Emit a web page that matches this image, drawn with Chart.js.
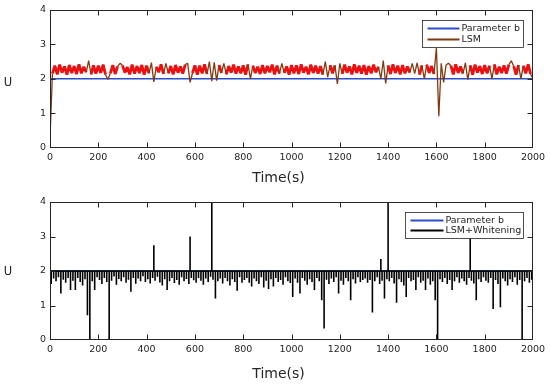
<!DOCTYPE html>
<html>
<head>
<meta charset="utf-8">
<script src="https://cdn.jsdelivr.net/npm/chart.js@4"></script>
<style>
  html, body { margin: 0; padding: 0; background: #fff; }
  #wrap { position: relative; width: 550px; height: 387px; }
  canvas { position: absolute; left: 0; }
  #topChart { top: 0; }
  #bottomChart { top: 190px; }
</style>
</head>
<body>
<div id="wrap">
  <canvas id="topChart" width="550" height="190"></canvas>
  <canvas id="bottomChart" width="550" height="197"></canvas>
</div>
<script>
// axes
const timeRange = [0, 2000];
const timeTickStep = 200;
const uRange = [0, 4];
const uTickStep = 1;

// Parameter b (constant)
const paramB = 2;

// LSM estimate, one sample every 10 s
const lsmStep = 10;
const lsm = [
  0.3, 2.15, 2.38, 2.13, 2.41, 2.18, 2.36, 2.12, 2.40, 2.17,
  2.37, 2.14, 2.42, 2.16, 2.35, 2.19, 2.53, 2.13, 2.39, 2.15,
  2.38, 2.17, 2.41, 2.12, 1.98, 2.16, 2.40, 2.14, 2.36, 2.45,
  2.39, 2.18, 2.34, 2.13, 2.41, 2.15, 2.37, 2.17, 2.40, 2.12,
  2.38, 2.16, 2.47, 1.91, 2.35, 2.19, 2.42, 2.14, 2.45, 2.16,
  2.37, 2.13, 2.40, 2.18, 2.36, 2.15, 2.41, 2.45, 1.90, 2.17,
  2.39, 2.12, 2.38, 2.16, 2.42, 2.14, 2.50, 1.93, 2.48, 1.95,
  2.40, 2.17, 2.45, 2.13, 2.37, 2.18, 2.41, 2.15, 2.36, 2.16,
  2.39, 2.12, 2.42, 2.00, 2.38, 2.17, 2.35, 2.14, 2.40, 2.16,
  2.37, 2.19, 2.41, 2.13, 2.38, 2.15, 2.45, 2.17, 2.36, 2.12,
  2.40, 2.16, 2.39, 2.14, 2.42, 2.18, 2.35, 2.13, 2.41, 2.17,
  2.38, 2.15, 2.37, 2.12, 2.50, 2.05, 2.40, 2.16, 2.39, 1.85,
  2.45, 2.14, 2.41, 2.18, 2.36, 2.13, 2.42, 2.17, 2.38, 2.15,
  2.40, 2.12, 2.37, 2.16, 2.41, 2.19, 2.35, 2.00, 2.53, 1.87,
  2.39, 2.14, 2.42, 2.17, 2.38, 2.13, 2.40, 2.16, 2.36, 2.18,
  2.45, 2.15, 2.46, 2.12, 2.39, 2.00, 2.41, 2.17, 2.37, 2.14,
  2.90, 0.92, 2.45, 1.90, 2.40, 2.45, 2.38, 2.13, 2.42, 2.17,
  2.36, 2.15, 2.46, 1.98, 2.39, 2.12, 2.41, 2.18, 2.37, 2.14,
  2.40, 2.16, 2.38, 2.00, 2.42, 2.13, 2.35, 2.17, 2.39, 2.15,
  2.41, 2.52, 2.37, 2.12, 2.40, 2.00, 2.38, 2.16, 2.42, 2.14,
  2.00
];

// LSM + whitening, one sample every 5 s, level 2 between the spikes
const whitenStep = 5;
const whitenBase = 2;
const lsmWhiten = [
  0, 1.62, 2, 1.78, 2, 1.7, 2, 1.82, 2, 1.35, 2, 1.75, 2, 1.66, 2, 1.8, 2, 1.45, 2, 1.72,
  2, 1.45, 2, 1.8, 2, 1.68, 2, 1.58, 2, 1.76, 2, 0.72, 2, 0, 2, 1.7, 2, 1.45, 2, 1.82,
  2, 1.74, 2, 1.62, 2, 1.8, 2, 1.68, 2, 0, 2, 1.72, 2, 1.84, 2, 1.6, 2, 1.77, 2, 1.7,
  2, 1.82, 2, 1.66, 2, 1.75, 2, 1.4, 2, 1.8, 2, 1.63, 2, 1.78, 2, 1.7, 2, 1.85, 2, 1.68,
  2, 1.76, 2, 1.64, 2, 1.8, 2.75, 1.72, 2, 1.83, 2, 1.67, 2, 1.58, 2, 1.76, 2, 1.45, 2, 1.7,
  2, 1.8, 2, 1.65, 2, 1.74, 2, 1.6, 2, 1.82, 2, 1.7, 2, 1.77, 2, 1.62, 3.0, 1.8, 2, 1.73,
  2, 1.66, 2, 1.8, 2, 1.72, 2, 1.6, 2, 1.78, 2, 1.68, 2, 1.83, 4, 1.75, 2, 1.2, 2, 1.7,
  2, 1.78, 2, 1.64, 2, 1.8, 2, 1.7, 2, 1.58, 2, 1.76, 2, 1.68, 2, 1.43, 2, 1.82, 2, 1.66,
  2, 1.74, 2, 1.8, 2, 1.66, 2, 1.55, 2, 1.78, 2, 1.7, 2, 1.62, 2, 1.82, 2, 1.52, 2, 1.72,
  2, 1.48, 2, 1.76, 2, 1.55, 2, 1.8, 2, 1.68, 2, 1.74, 2, 1.6, 2, 1.82, 2, 1.7, 2, 1.65,
  2, 1.25, 2, 1.78, 2, 1.66, 2, 1.35, 2, 1.8, 2, 1.72, 2, 1.6, 2, 1.76, 2, 1.68, 2, 1.45,
  2, 1.8, 2, 1.7, 2, 1.15, 2, 0.33, 2, 1.75, 2, 1.62, 2, 1.78, 2, 1.68, 2, 1.82, 2, 1.35,
  2, 1.72, 2, 1.6, 2, 1.8, 2, 1.7, 2, 1.15, 2, 1.76, 2, 1.64, 2, 1.82, 2, 1.68, 2, 1.74,
  2, 1.78, 2, 1.66, 2, 1.74, 2, 0.8, 2, 1.7, 2, 1.82, 2, 1.62, 2.35, 1.72, 2, 1.2, 2, 1.76,
  4, 1.7, 2, 1.8, 2, 1.64, 2, 1.08, 2, 1.76, 2, 1.68, 2, 1.58, 2, 1.25, 2, 1.8, 2, 1.7,
  2, 1.74, 2, 1.45, 2, 1.82, 2, 1.66, 2, 1.72, 2, 1.45, 2, 1.78, 2, 1.6, 2, 1.7, 2, 1.15,
  2, 0, 2, 1.76, 2, 1.68, 2, 1.8, 2, 1.62, 2, 1.74, 2, 1.45, 2, 1.7, 2, 1.82, 2, 1.66,
  2, 1.78, 2, 1.7, 2, 1.6, 2, 1.8, 2.95, 1.72, 2, 1.64, 2, 1.15, 2, 1.76, 2, 1.68, 2, 1.82,
  2, 1.72, 2, 1.66, 2, 1.8, 2, 0.9, 2, 1.74, 2, 1.62, 2, 0.95, 2, 1.78, 2, 1.7, 2, 1.58,
  2, 1.76, 2, 1.68, 2, 1.82, 2, 1.6, 2, 1.74, 2, 0, 2, 1.7, 2, 1.8, 2, 1.66, 2, 1.75,
  4
];

const blue = '#2a4ec8';
const brown = '#803a10';
const red = '#ee1010';
const ink = '#262626';
const font = '"DejaVu Sans", sans-serif';

function series(vals, step) {
  return vals.map((v, i) => ({ x: i * step, y: v }));
}
// each sample drawn as a short vertical stroke off the base level
function stems(vals, step, base) {
  const pts = [];
  vals.forEach((v, i) => {
    const t = i * step;
    pts.push({ x: t, y: base }, { x: t, y: v }, { x: t, y: base });
  });
  return pts;
}
const paramLine = timeRange.map(t => ({ x: t, y: paramB }));

// box, inward ticks, U / Time(s) labels and a legend inside the axes
const matlabBox = {
  id: 'matlabBox',
  afterDraw(chart, args, o) {
    const { ctx, chartArea: a, scales: { x, y } } = chart;
    ctx.save();
    ctx.strokeStyle = ink;
    ctx.lineWidth = 1;
    const L = Math.round(a.left) + 0.5, R = Math.round(a.right) - 0.5;
    const T = Math.round(a.top) + 0.5, B = Math.round(a.bottom) - 0.5;
    ctx.strokeRect(L, T, R - L, B - T);
    ctx.beginPath();
    x.ticks.forEach(t => {
      const px = Math.min(R, Math.max(L, Math.round(x.getPixelForValue(t.value)) + 0.5));
      ctx.moveTo(px, B); ctx.lineTo(px, B - 5);
      ctx.moveTo(px, T); ctx.lineTo(px, T + 5);
    });
    y.ticks.forEach(t => {
      const py = Math.min(B, Math.max(T, Math.round(y.getPixelForValue(t.value)) + 0.5));
      ctx.moveTo(L, py); ctx.lineTo(L + 5, py);
      ctx.moveTo(R, py); ctx.lineTo(R - 5, py);
    });
    ctx.stroke();

    ctx.fillStyle = ink;
    ctx.textAlign = 'center';
    ctx.textBaseline = 'middle';
    ctx.font = '11.5px ' + font;
    ctx.fillText('U', 8, (a.top + a.bottom) / 2 + o.uShift);
    ctx.font = '14px ' + font;
    ctx.fillText('Time(s)', (a.left + a.right) / 2 - 13, a.bottom + o.titleGap);

    // legend
    const bx = Math.round(a.right) - 10 - o.legendW + 0.5;
    const by = Math.round(a.top) + 10 + 0.5;
    ctx.fillStyle = '#fff';
    ctx.fillRect(bx, by, o.legendW, o.legendH);
    ctx.lineWidth = 0.8;
    ctx.strokeRect(bx, by, o.legendW, o.legendH);
    ctx.font = '9.5px ' + font;
    ctx.textAlign = 'left';
    chart.data.datasets.forEach((ds, i) => {
      const ry = by + 8 + i * o.rowGap;
      ctx.strokeStyle = ds.borderColor;
      ctx.lineWidth = 2;
      ctx.beginPath();
      ctx.moveTo(bx + 5, ry); ctx.lineTo(bx + o.sampleW, ry);
      ctx.stroke();
      ctx.fillStyle = ink;
      ctx.fillText(ds.label, bx + o.sampleW + 2, ry);
    });
    ctx.restore();
  }
};

function makeOptions(padTop, xHeight, boxOpts) {
  return {
    responsive: false,
    animation: false,
    events: [],
    layout: { padding: { left: 0, right: 17, top: padTop, bottom: 0 } },
    elements: { point: { radius: 0 }, line: { tension: 0, borderJoinStyle: 'bevel' } },
    plugins: {
      legend: { display: false },
      tooltip: { enabled: false },
      matlabBox: boxOpts
    },
    scales: {
      x: {
        type: 'linear',
        min: timeRange[0],
        max: timeRange[1],
        grid: { display: false, drawTicks: false },
        border: { display: false },
        ticks: { stepSize: timeTickStep, padding: 4, color: ink, autoSkip: false, maxRotation: 0,
                 font: { family: font, size: 9.5 }, callback: v => String(v) },
        afterFit: s => { s.height = xHeight; }
      },
      y: {
        min: uRange[0],
        max: uRange[1],
        grid: { display: false, drawTicks: false },
        border: { display: false },
        ticks: { stepSize: uTickStep, padding: 4, color: ink, font: { family: font, size: 9.5 },
                 callback: v => String(v) },
        afterFit: s => { s.width = 50; }
      }
    }
  };
}

const inBand = v => v >= 2.1 && v <= 2.43;
const bothInBand = c => inBand(c.p0.parsed.y) && inBand(c.p1.parsed.y);

new Chart(document.getElementById('topChart'), {
  type: 'line',
  data: {
    datasets: [
      { label: 'Parameter b', data: paramLine, borderColor: blue, borderWidth: 1.5, order: 2 },
      {
        label: 'LSM', data: series(lsm, lsmStep), borderColor: brown, borderWidth: 1.3, order: 1,
        segment: {
          borderColor: c => bothInBand(c) ? red : undefined,
          borderWidth: c => bothInBand(c) ? 2.8 : undefined
        }
      }
    ]
  },
  options: makeOptions(9, 42, { uShift: 4, titleGap: 30, legendW: 101, legendH: 27, rowGap: 11, sampleW: 37 }),
  plugins: [matlabBox]
});

new Chart(document.getElementById('bottomChart'), {
  type: 'line',
  data: {
    datasets: [
      { label: 'Parameter b', data: paramLine, borderColor: blue, borderWidth: 1.5, order: 2 },
      { label: 'LSM+Whitening', data: stems(lsmWhiten, whitenStep, whitenBase), borderColor: '#000', borderWidth: 1.6, order: 1 }
    ]
  },
  options: makeOptions(12, 47, { uShift: 1, titleGap: 34, legendW: 118, legendH: 26, rowGap: 10, sampleW: 38 }),
  plugins: [matlabBox]
});
</script>
</body>
</html>
